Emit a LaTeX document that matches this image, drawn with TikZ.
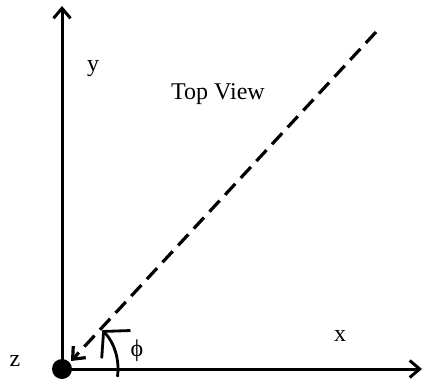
\documentclass[tikz,border=0pt]{standalone}
\usepackage{fontspec}
\setmainfont{Liberation Serif}
\usetikzlibrary{arrows.meta}

\begin{document}
\begin{tikzpicture}[x=1pt,y=1pt,
	axis/.style={line width=3pt,-{Straight Barb[length=10pt,width=17pt]}},
	viewline/.style={line width=3.2pt,dash pattern=on 15pt off 8pt,-{Straight Barb[length=10pt,width=17pt]}},
	lbl/.style={font=\fontsize{24}{28}\selectfont,inner sep=0pt}]
	\useasboundingbox (0,0) rectangle (423,381);
	% Points
	\coordinate (O) at (62,12);
	\coordinate (ytip) at (62,375);
	\coordinate (xtip) at (422,12);
	\coordinate (far) at (376,349);
	\coordinate (near) at (71,20);

	% Axes
	\draw[axis] (O) -- (ytip);
	\draw[axis] (O) -- (xtip);

	% Viewing direction
	\draw[viewline] (far) -- (near);

	% Angle
	\draw[line width=2.8pt,-{Straight Barb[length=18pt,width=40pt]}] (O) ++(-8:56) arc[start angle=-8,end angle=44,radius=56];

	% Origin
	\fill (O) circle[radius=10];

	% Labels
	\node[lbl] (ylabel) at (93,312) {y};
	\node[lbl] (title) at (218,287) {Top View};
	\node[lbl] (xlabel) at (340,45) {x};
	\node[lbl] (zlabel) at (15,20) {z};
	\node[lbl] (philabel) at (137,30) {ϕ};
\end{tikzpicture}
\end{document}
